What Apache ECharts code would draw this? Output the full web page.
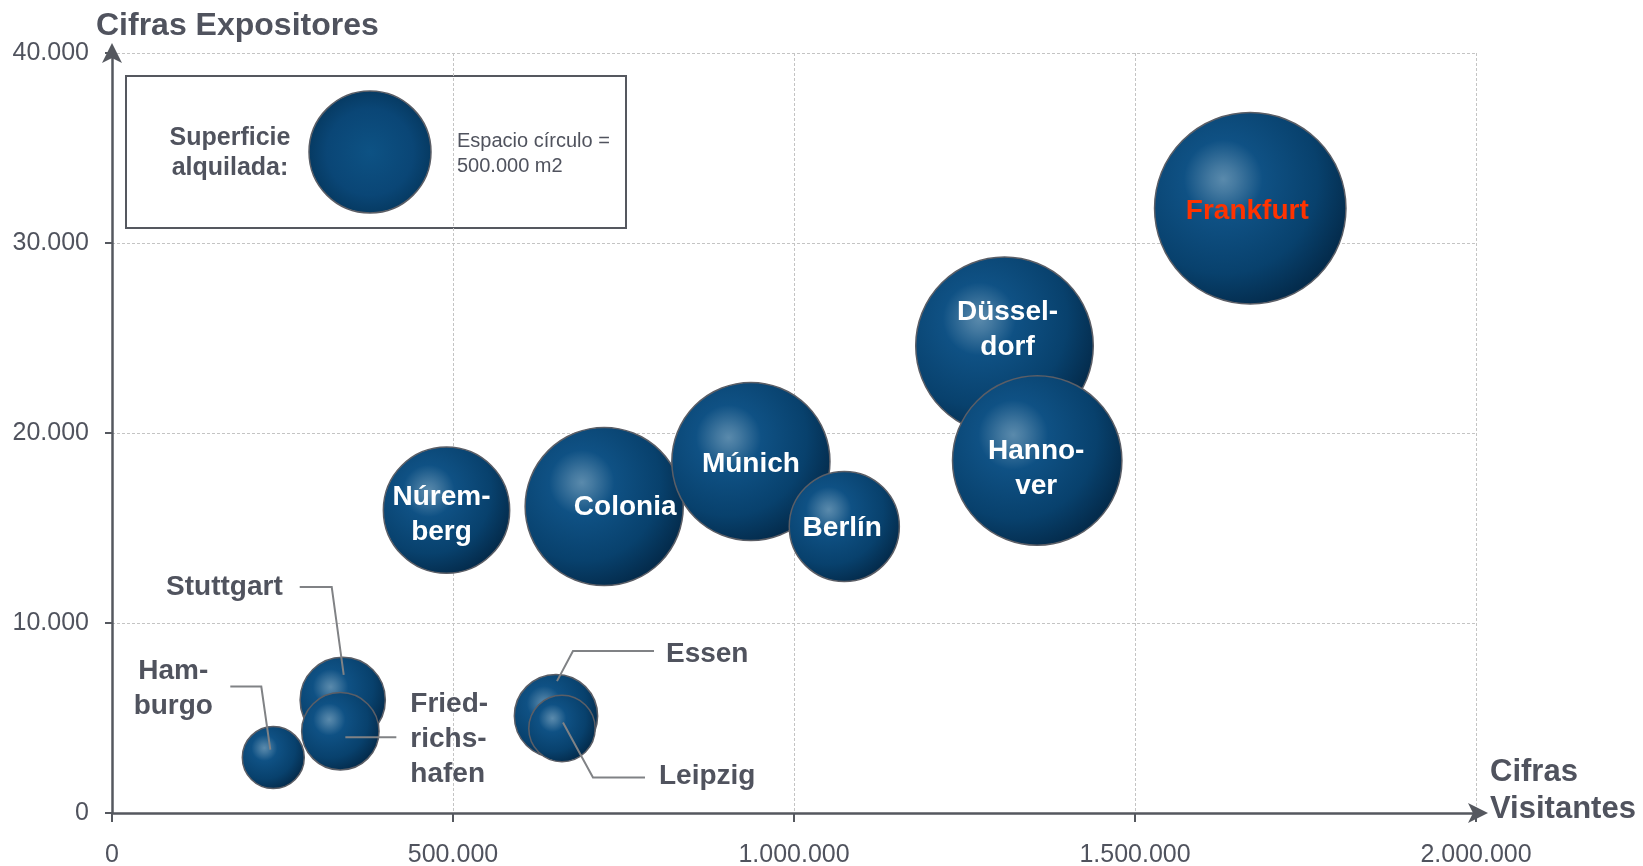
<!DOCTYPE html>
<html>
<head>
<meta charset="utf-8">
<title>Ferias en Alemania</title>
<script src="https://cdn.jsdelivr.net/npm/echarts@6/dist/echarts.min.js"></script>
<style>
  html, body { margin: 0; padding: 0; background: #fff; }
  #chart { width: 1643px; height: 866px; }
</style>
</head>
<body>
<div id="chart"></div>
<script>
// datos
const cities = ['Hamburgo', 'Stuttgart', 'Friedrichshafen', 'Núremberg', 'Essen', 'Leipzig',
  'Colonia', 'Múnich', 'Berlín', 'Düsseldorf', 'Hannover', 'Frankfurt'];
const cityLabels = ['Ham-\nburgo', 'Stuttgart', 'Fried-\nrichs-\nhafen', 'Núrem-\nberg', 'Essen', 'Leipzig',
  'Colonia', 'Múnich', 'Berlín', 'Düssel-\ndorf', 'Hanno-\nver', 'Frankfurt'];
const visitors = [236500, 338300, 334800, 490500, 651000, 659800, 721700, 936800, 1073750, 1308650, 1356600, 1669000];
const exhibitors = [2920, 5950, 4300, 15940, 5100, 4450, 16130, 18500, 15080, 24590, 18550, 31830];
const rentedArea = [129000, 244000, 201000, 536000, 233000, 148000, 840000, 840000, 407000, 1059000, 964000, 1231000];
const legendArea = 500000;

const xTicks = [0, 500000, 1000000, 1500000, 2000000];
const yTicks = [0, 10000, 20000, 30000, 40000];

const TEXT = '#50535e';
const FONT = '"Liberation Sans", Arial, sans-serif';
const R0 = 61; // radio en px del circulo de 500.000 m2

function sizeOf(area) {
  return 2 * R0 * Math.sqrt(area / legendArea);
}
function fmt(v) {
  return String(v).replace(/\B(?=(\d{3})+(?!\d))/g, '.');
}

const bubbleFill = {
  type: 'radial', x: 0.36, y: 0.35, r: 0.68,
  colorStops: [
    { offset: 0, color: '#5a8aac' },
    { offset: 0.1, color: '#4479a0' },
    { offset: 0.3, color: '#0f5184' },
    { offset: 0.72, color: '#08416d' },
    { offset: 1, color: '#042c4d' }
  ]
};

// etiquetas dentro del circulo: desplazamiento respecto al centro
const insideLabel = {
  'Núremberg': [-5, 5],
  'Colonia': [21, 1],
  'Múnich': [0, 3],
  'Berlín': [-2, 2],
  'Düsseldorf': [3, -16],
  'Hannover': [-1, 8],
  'Frankfurt': [-3, 3]
};

// etiquetas fuera con linea de referencia (px respecto al centro)
const callouts = {
  'Hamburgo': { line: [[-43, -71], [-12, -71], [-3, -8]], text: [-100, -69], align: 'center' },
  'Stuttgart': { line: [[-43, -113], [-11, -113], [1, -25]], text: [-60, -113], align: 'right' },
  'Friedrichshafen': { line: [[5, 6], [56, 6]], text: [70, 8], align: 'left' },
  'Essen': { line: [[1, -35], [17, -65], [98, -65]], text: [110, -62], align: 'left' },
  'Leipzig': { line: [[1, -6], [31, 49], [83, 49]], text: [97, 48], align: 'left' }
};

const scatterData = cities.map((c, i) => {
  const off = insideLabel[c];
  return {
    name: c,
    value: [visitors[i], exhibitors[i], rentedArea[i]],
    label: off ? {
      show: true,
      position: 'inside',
      offset: off,
      formatter: cityLabels[i],
      color: c === 'Frankfurt' ? '#ff3300' : '#ffffff'
    } : { show: false }
  };
});

const calloutData = cities
  .map((c, i) => ({ name: c, value: [visitors[i], exhibitors[i], i] }))
  .filter(d => callouts[d.name]);

const chart = echarts.init(document.getElementById('chart'), null, { renderer: 'canvas' });

const legendR = sizeOf(legendArea) / 2;

chart.setOption({
  animation: false,
  backgroundColor: '#ffffff',
  textStyle: { fontFamily: FONT },
  title: {
    text: 'Cifras Expositores',
    left: 91,
    top: 5,
    textStyle: { color: TEXT, fontSize: 32, fontWeight: 'bold', fontFamily: FONT }
  },
  grid: { left: 112, right: 167, top: 53, bottom: 53, containLabel: false, outerBoundsMode: 'none' },
  xAxis: {
    type: 'value',
    min: 0,
    max: 2000000,
    interval: 500000,
    axisLine: {
      show: true,
      lineStyle: { color: '#55585f', width: 2.5 },
      symbol: ['none', 'arrow'],
      symbolSize: [15, 20],
      symbolOffset: [0, 12]
    },
    axisTick: { show: true, inside: false, length: 9, lineStyle: { color: '#55585f', width: 2 } },
    axisLabel: {
      color: TEXT, fontSize: 25, margin: 30, fontFamily: FONT,
      formatter: v => xTicks.includes(v) ? fmt(v) : ''
    },
    splitLine: { show: true, lineStyle: { color: '#c4c4c4', width: 1, type: [3, 2] } }
  },
  yAxis: {
    type: 'value',
    min: 0,
    max: 40000,
    interval: 10000,
    axisLine: {
      show: true,
      lineStyle: { color: '#55585f', width: 2.5 },
      symbol: ['none', 'arrow'],
      symbolSize: [15, 20],
      symbolOffset: [0, 10]
    },
    axisTick: { show: true, inside: false, length: 7, lineStyle: { color: '#55585f', width: 2 } },
    axisLabel: {
      color: TEXT, fontSize: 25, margin: 23, fontFamily: FONT,
      formatter: v => yTicks.includes(v) ? fmt(v) : ''
    },
    splitLine: { show: true, lineStyle: { color: '#c4c4c4', width: 1, type: [3, 2] } }
  },
  graphic: [
    {
      // nombre del eje X
      type: 'text',
      z: 5,
      style: {
        x: 1490, y: 791,
        text: 'Cifras\nVisitantes',
        align: 'left', verticalAlign: 'middle',
        fill: TEXT, font: 'bold 31px ' + FONT, lineHeight: 37
      }
    },
    {
      type: 'group',
      z: 5,
      children: [
        {
          type: 'rect',
          shape: { x: 126, y: 76, width: 500, height: 152 },
          style: { fill: '#ffffff', stroke: '#55585f', lineWidth: 2 }
        },
        {
          type: 'circle',
          shape: { cx: 370, cy: 152, r: legendR },
          style: {
            fill: {
              type: 'radial', x: 0.5, y: 0.5, r: 0.5,
              colorStops: [
                { offset: 0, color: '#0d5284' },
                { offset: 0.7, color: '#0a4676' },
                { offset: 1, color: '#063a62' }
              ]
            },
            stroke: '#5b5e66', lineWidth: 1.5
          }
        },
        {
          type: 'text',
          style: {
            x: 230, y: 153,
            text: 'Superficie\nalquilada:',
            align: 'center', verticalAlign: 'middle',
            fill: TEXT, font: 'bold 25px ' + FONT, lineHeight: 30
          }
        },
        {
          type: 'text',
          style: {
            x: 457, y: 154,
            text: 'Espacio círculo =\n500.000 m2',
            align: 'left', verticalAlign: 'middle',
            fill: TEXT, font: '20px ' + FONT, lineHeight: 25
          }
        }
      ]
    }
  ],
  series: [
    {
      type: 'scatter',
      data: scatterData,
      symbol: 'circle',
      symbolSize: v => sizeOf(v[2]),
      itemStyle: { color: bubbleFill, borderColor: '#5b5e66', borderWidth: 1.5, opacity: 1 },
      label: {
        fontSize: 28, fontWeight: 'bold', lineHeight: 35, fontFamily: FONT, align: 'center'
      },
      emphasis: { disabled: true },
      z: 2
    },
    {
      type: 'custom',
      data: calloutData,
      encode: { x: 0, y: 1 },
      clip: false,
      z: 3,
      renderItem: (params, api) => {
        const name = calloutData[params.dataIndex].name;
        const idx = api.value(2);
        const cfg = callouts[name];
        const c = api.coord([api.value(0), api.value(1)]);
        return {
          type: 'group',
          children: [
            {
              type: 'polyline',
              shape: { points: cfg.line.map(p => [c[0] + p[0], c[1] + p[1]]) },
              style: { stroke: '#808285', lineWidth: 2, fill: null }
            },
            {
              type: 'text',
              style: {
                x: c[0] + cfg.text[0],
                y: c[1] + cfg.text[1],
                text: cityLabels[idx],
                align: cfg.align,
                verticalAlign: 'middle',
                fill: TEXT,
                font: 'bold 28px ' + FONT,
                lineHeight: 35
              }
            }
          ]
        };
      }
    }
  ]
});
</script>
</body>
</html>
